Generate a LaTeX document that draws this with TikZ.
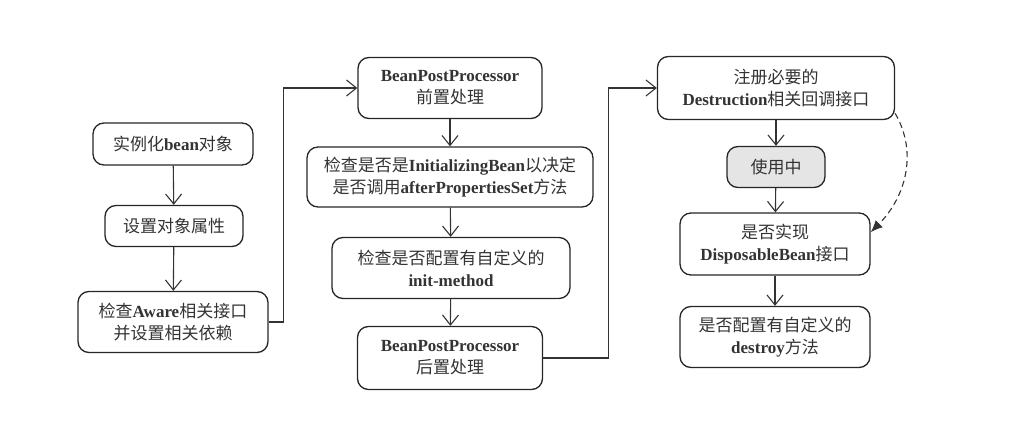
\documentclass[tikz,border=0pt]{standalone}
\usepackage{fontspec}
\setmainfont{Liberation Serif}
\newfontfamily\cjk{Noto Sans CJK SC}
\newcommand\zh[1]{{\cjk\mdseries #1}}
\usetikzlibrary{arrows.meta}
\begin{document}
\begin{tikzpicture}[x=1pt,y=-1pt]
\tikzstyle{etape} = [draw=black!85, line width=1.3pt, rounded corners=11pt, align=center, text=black!80, font=\bfseries\fontsize{17}{22}\selectfont, inner sep=0pt] %boite
\tikzstyle{fleche} = [draw=black!80, line width=1.1pt, -{Straight Barb[length=10pt,width=16pt]}]
\useasboundingbox (0,0) rectangle (1018,425);
%colonne de gauche
\node[etape, minimum width=160, minimum height=42] (inst) at (173,144) {\zh{实例化}bean\zh{对象}};
\node[etape, minimum width=138, minimum height=41] (attr) at (174,226) {\zh{设置对象属性}};
\node[etape, minimum width=190, minimum height=61] (aware) at (173,322) {\zh{检查}Aware\zh{相关接口}\\\zh{并设置相关依赖}};
%colonne du milieu
\node[etape, minimum width=184, minimum height=61] (pre) at (450,88) {BeanPostProcessor\\\zh{前置处理}};
\node[etape, minimum width=286, minimum height=60] (init) at (450,177) {\zh{检查是否是}InitializingBean\zh{以决定}\\\zh{是否调用}afterPropertiesSet\zh{方法}};
\node[etape, minimum width=238, minimum height=61] (meth) at (451,268) {\zh{检查是否配置有自定义的}\\init-method};
\node[etape, minimum width=185, minimum height=63] (post) at (450,358) {BeanPostProcessor\\\zh{后置处理}};
%colonne de droite
\node[etape, minimum width=237, minimum height=63] (destr) at (776,88) {\zh{注册必要的}\\Destruction\zh{相关回调接口}};
\node[etape, fill=gray!20, minimum width=98, minimum height=41] (use) at (776,167) {\zh{使用中}};
\node[etape, minimum width=190, minimum height=62] (dispo) at (775,244) {\zh{是否实现}\\DisposableBean\zh{接口}};
\node[etape, minimum width=190, minimum height=61] (destroy) at (775,337) {\zh{是否配置有自定义的}\\destroy\zh{方法}};
%fleches
\draw[fleche] (inst) -- (attr);
\draw[fleche] (attr) -- (aware);
\draw[fleche] (aware.east) -- ++(15,0) |- (pre.west);
\draw[fleche] (pre) -- (init);
\draw[fleche] (init) -- (meth);
\draw[fleche] (meth) -- (post);
\draw[fleche] (post.east) -- ++(65,0) |- (destr.west);
\draw[fleche] (destr) -- (use);
\draw[fleche] (use) -- (dispo);
\draw[fleche] (dispo) -- (destroy);
\draw[fleche, dash pattern=on 6pt off 4pt, -{Latex[length=12pt,width=10pt]}] (destr.-12) to[out=-60,in=45] (dispo.7);
\end{tikzpicture}
\end{document}
